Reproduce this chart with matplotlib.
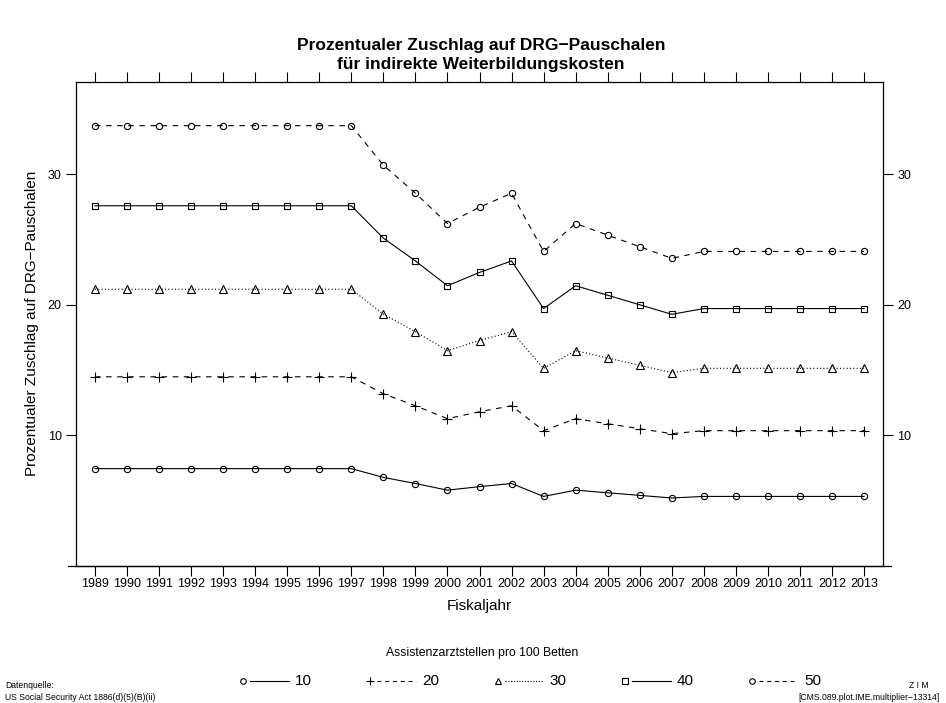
import matplotlib
matplotlib.use('Agg')
import matplotlib.pyplot as plt
from matplotlib.lines import Line2D

plt.rcParams['font.family'] = ['Liberation Sans', 'DejaVu Sans']

# Fiskaljahre und Zuschlag (%) je Assistenzarztstellen pro 100 Betten
years = list(range(1989, 2014))
ime_10 = [7.44] * 9 + [6.77, 6.30, 5.79, 6.06, 6.30, 5.31, 5.79, 5.59, 5.39, 5.19] + [5.31] * 6
ime_20 = [14.48] * 9 + [13.18, 12.26, 11.27, 11.80, 12.26, 10.35, 11.27, 10.88, 10.50, 10.12] + [10.35] * 6
ime_30 = [21.19] * 9 + [19.28, 17.94, 16.48, 17.26, 17.94, 15.13, 16.48, 15.92, 15.36, 14.80] + [15.13] * 6
ime_40 = [27.59] * 9 + [25.11, 23.36, 21.46, 22.48, 23.36, 19.71, 21.46, 20.73, 20.00, 19.27] + [19.71] * 6
ime_50 = [33.73] * 9 + [30.70, 28.55, 26.23, 27.48, 28.55, 24.09, 26.23, 25.34, 24.45, 23.56] + [24.09] * 6

labels = ['10', '20', '30', '40', '50']
series = [ime_10, ime_20, ime_30, ime_40, ime_50]
markers = ['o', '+', '^', 's', 'o']
msizes = [4.5, 6.5, 5.5, 4.5, 4.5]
styles = ['-', (0, (5, 5)), (0, (1, 2)), '-', (0, (5, 5))]
key_styles = ['-', (0, (3.5, 3.5)), (0, (1, 1.5)), '-', (0, (3.5, 3.5))]

W, H = 946, 703
fig = plt.figure(figsize=(W / 100, H / 100), dpi=100)
ax = fig.add_axes([75.7 / W, 1 - 565.7 / H, (883.3 - 75.7) / W, (565.7 - 81.7) / H])

for vals, m, ms, ls in zip(series, markers, msizes, styles):
    ax.plot(years, vals, color='black', linestyle=ls, linewidth=0.8,
            marker=m, markersize=ms, markerfacecolor='none',
            markeredgecolor='black', markeredgewidth=0.8)

ax.set_xlim(1988.4, 2013.6)
ax.set_ylim(0, 37.1)
ax.set_xticks(years)
ax.set_xticklabels([str(y) for y in years])
ax.set_yticks([10, 20, 30])
ax.tick_params(axis='x', top=True, bottom=True, labeltop=False, direction='out',
               length=7, width=0.8, labelsize=9, pad=1.5)
ax.tick_params(axis='y', left=True, right=True, labelright=True, direction='out',
               length=7, width=0.8, labelsize=9, pad=3)
for s in ax.spines.values():
    s.set_linewidth(0.9)
# untere Achsenlinie etwas über den Rahmen hinaus (wie lattice)
ax.plot([-0.009, 1.009], [0, 0], transform=ax.transAxes, color='black',
        linewidth=0.9, clip_on=False)

ax.set_xlabel('Fiskaljahr', fontsize=11, labelpad=7)
ax.set_ylabel('Prozentualer Zuschlag auf DRG\u2212Pauschalen', fontsize=11, labelpad=6)

fig.text(481 / W, 1 - 55 / H, 'Prozentualer Zuschlag auf DRG\u2212Pauschalen\nf\u00fcr indirekte Weiterbildungskosten',
         ha='center', va='center', fontsize=12.5, fontweight='bold', linespacing=1.3)

# Legende (lattice-artig: Punkt, Linie, Text)
fig.text(482 / W, 1 - 653 / H, 'Assistenzarztstellen pro 100 Betten', ha='center', va='center', fontsize=8.8)
ly = 1 - 681 / H
for i, (lab, m, ls) in enumerate(zip(labels, markers, key_styles)):
    x0 = 243 + i * 127.3
    fig.add_artist(Line2D([x0 / W], [ly], marker=m, markersize=4 if m != '+' else 6,
                          markerfacecolor='none', markeredgecolor='black',
                          markeredgewidth=0.8, linestyle='none'))
    fig.add_artist(Line2D([(x0 + 7) / W, (x0 + 46) / W], [ly, ly], color='black',
                          linestyle=ls, linewidth=0.8))
    fig.text((x0 + 52) / W, ly, lab, ha='left', va='center', fontsize=11)

fig.text(5 / W, 1 - 685 / H, 'Datenquelle:', fontsize=6.2, ha='left', va='center')
fig.text(5 / W, 1 - 697 / H, 'US Social Security Act 1886(d)(5)(B)(ii)', fontsize=6.2, ha='left', va='center')
fig.text(929 / W, 1 - 685 / H, 'Z I M', fontsize=6.2, ha='right', va='center')
fig.text(940 / W, 1 - 697 / H, '[CMS.089.plot.IME.multiplier\u221213314]', fontsize=6.2, ha='right', va='center')

fig.savefig('out.png', dpi=100)
